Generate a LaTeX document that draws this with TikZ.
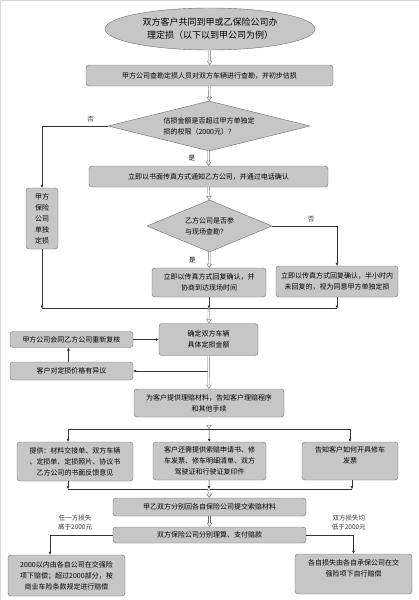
\documentclass[tikz,border=0pt]{standalone}
\usepackage{fontspec}
\setmainfont{Noto Sans CJK SC}
\usetikzlibrary{arrows.meta,shapes.geometric}

\begin{document}
\begin{tikzpicture}[
    x=1pt, y=-1pt,
    box/.style={draw=gray!85!black, fill=gray!45, rounded corners=3pt, align=center, inner sep=1pt, font=\fontsize{7}{11}\selectfont},
    decision/.style={diamond, draw=gray!85!black, fill=gray!45, inner sep=0pt, align=left, font=\fontsize{7}{11}\selectfont},
    arrow/.style={-{Latex[length=3pt,width=3pt]}, black!80, line width=0.5pt},
    hollow/.style={double=white, double distance=1.4pt, draw=gray!80!black, line width=0.4pt, -{Triangle[open,length=4pt,width=5.5pt]}},
    tag/.style={font=\fontsize{6.5}{9}\selectfont, align=center}
]
    \useasboundingbox (0,0) rectangle (419,600);
    \draw[gray!30] (0.5,600) -- (0.5,0.5) -- (419,0.5);

    \node[ellipse, draw=gray!85!black, fill=gray!45, minimum width=210, minimum height=42, inner sep=0pt, align=center, font=\fontsize{9}{13}\selectfont] (start) at (210,29) {双方客户共同到甲或乙保险公司办\\理定损（以下以到甲公司为例）};
    \node[box, minimum width=247, minimum height=21] (survey) at (209.5,75.5) {甲方公司查勘定损人员对双方车辆进行查勘，并初步估损};
    \node[decision, aspect=4, minimum width=202, minimum height=50] (limit) at (209,126) {估损金额是否超过甲方单独定\\损的权限（2000元）？};
    \node[box, minimum width=239, minimum height=21] (notify) at (208.5,176.5) {立即以书面传真方式通知乙方公司，并通过电话确认};
    \node[box, minimum width=32, minimum height=61] (solo) at (42,218.5) {甲方\\保险\\公司\\单独\\定损};
    \node[decision, aspect=2.4, minimum width=125, minimum height=52] (join) at (209.5,226) {乙方公司是否参\\与现场查勘？};
    \node[box, minimum width=114, minimum height=29] (replyyes) at (209,282.5) {立即以传真方式回复确认，并\\协商到达现场时间};
    \node[box, minimum width=122, minimum height=31] (replyno) at (337,281.5) {立即以传真方式回复确认，半小时内\\未回复的，视为同意甲方单独定损};
    \node[box, minimum width=99, minimum height=32] (amount) at (208.5,339.5) {确定双方车辆\\具体定损金额};
    \node[box, minimum width=123, minimum height=16] (recheck) at (71.5,339.5) {甲方公司会同乙方公司重新复核};
    \node[box, minimum width=123, minimum height=18] (dispute) at (71.5,371) {客户对定损价格有异议};
    \node[box, minimum width=150, minimum height=28] (materials) at (209,403) {为客户提供理赔材料，告知客户理赔程序\\和其他手续};
    \node[box, minimum width=116, minimum height=39] (listone) at (75,461.5) {提供：材料交接单、双方车辆\\、定损单、定损照片、协议书\\乙方公司的书面反馈意见};
    \node[box, minimum width=113, minimum height=38] (listtwo) at (209.5,461) {客户还需提供索赔申请书、修\\车发票、修车明细清单、双方\\驾驶证和行驶证复印件};
    \node[box, minimum width=96, minimum height=38] (invoice) at (350,461) {告知客户如何开具修车\\发票\\\mbox{}};
    \node[box, minimum width=193, minimum height=18] (submit) at (209.5,507) {甲乙双方分别回各自保险公司提交索赔材料};
    \node[box, minimum width=193, minimum height=16] (settle) at (209.5,535) {双方保险公司分别理算、支付赔款};
    \node[box, minimum width=117, minimum height=41] (over) at (66.5,575.5) {2000以内由各自公司在交强险\\项下赔偿；超过2000部分，按\\商业车险条款规定进行赔偿};
    \node[box, minimum width=117, minimum height=40] (under) at (353.5,574) {各自损失由各自承保公司在交\\强险项下自行赔偿\\\mbox{}};

    \coordinate (mergeA) at (209,308.5);
    \coordinate (splitB) at (209,429);
    \coordinate (mergeB) at (209,489);

    \draw[hollow] (start) -- (survey);
    \draw[hollow] (survey) -- (limit);
    \draw[arrow] (limit.west) -| (solo.north) node[tag, pos=0.13, above] {否};
    \draw[hollow] (limit) -- (notify) node[tag, midway, left=10pt] {是};
    \draw[hollow] (notify) -- (join);
    \draw[arrow] (join.east) -| (replyno.north) node[tag, pos=0.3, above] {否};
    \draw[hollow] (join) -- (replyyes) node[tag, midway, left=10pt] {是};
    \draw[black!80, line width=0.5pt] (solo |- mergeA) -- (replyno |- mergeA);
    \draw[arrow] (solo) -- (solo |- mergeA);
    \draw[arrow] (replyyes) -- (mergeA);
    \draw[arrow] (replyno) -- (replyno |- mergeA);
    \draw[hollow] (mergeA) -- (amount);
    \draw[arrow] (recheck) -- (amount);
    \draw[arrow] (amount.south |- dispute) -- (dispute);
    \draw[arrow] ([xshift=-3pt]dispute.north) -- ([xshift=-3pt]recheck.south);
    \draw[hollow] (amount) -- (materials);
    \draw[hollow] (materials) -- (splitB);
    \draw[black!80, line width=0.5pt] ([xshift=-7pt]listone.north |- splitB) -- (invoice.north |- splitB);
    \draw[arrow] ([xshift=-7pt]listone.north |- splitB) -- ([xshift=-7pt]listone.north);
    \draw[arrow] (splitB) -- (listtwo);
    \draw[arrow] (invoice.north |- splitB) -- (invoice);
    \draw[black!80, line width=0.5pt] ([xshift=-7pt]listone.south |- mergeB) -- ([xshift=2pt]invoice.south |- mergeB);
    \draw[arrow] ([xshift=-7pt]listone.south) -- ([xshift=-7pt]listone.south |- mergeB);
    \draw[arrow] (listtwo) -- (mergeB);
    \draw[arrow] ([xshift=2pt]invoice.south) -- ([xshift=2pt]invoice.south |- mergeB);
    \draw[hollow] (mergeB) -- (submit);
    \draw[hollow] (submit) -- (settle);
    \draw[arrow] (settle.west) -| ([xshift=-16.5pt]over.north) node[tag, pos=0.3, above=1pt] {任一方损失\\高于2000元};
    \draw[arrow] (settle.east) -| (under.north) node[tag, pos=0.45, above=1pt] {双方损失均\\低于2000元};
\end{tikzpicture}
\end{document}
